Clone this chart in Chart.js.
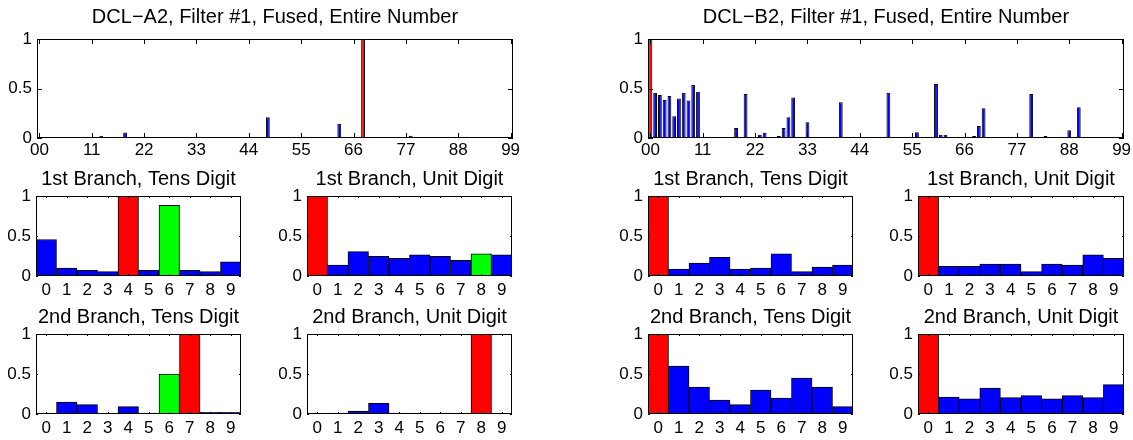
<!DOCTYPE html>
<html>
<head>
<meta charset="utf-8">
<script src="https://cdn.jsdelivr.net/npm/chart.js@4.4.1/dist/chart.umd.min.js"></script>
<style>
  body { margin: 0; background: #fff; width: 1133px; height: 440px; overflow: hidden; position: relative; }
  .panel { position: absolute; }
</style>
</head>
<body>
<script>
// ---- data ----
const digitLabels = ['0', '1', '2', '3', '4', '5', '6', '7', '8', '9'];
const numberLabels = Array.from({ length: 100 }, (_, i) => String(i).padStart(2, '0'));
const numberTicks = [0, 11, 22, 33, 44, 55, 66, 77, 88, 99];

// DCL-A2 fused score per number 00..99
const fusedA = [
  0, 0, 0, 0, 0, 0, 0, 0, 0.01, 0,
  0, 0, 0, 0.023, 0, 0, 0, 0, 0.055, 0,
  0, 0, 0, 0, 0, 0, 0, 0, 0, 0,
  0, 0, 0, 0, 0, 0, 0, 0, 0, 0,
  0, 0, 0, 0.008, 0, 0, 0, 0, 0.21, 0,
  0, 0, 0, 0, 0, 0, 0, 0, 0, 0,
  0, 0, 0.006, 0.145, 0.006, 0, 0.01, 0, 1, 0,
  0, 0, 0.005, 0.005, 0, 0, 0, 0, 0.023, 0,
  0, 0, 0, 0, 0, 0, 0, 0, 0, 0,
  0, 0, 0, 0, 0, 0, 0, 0, 0.005, 0
];
const a1Tens = [0.456, 0.10, 0.071, 0.054, 1, 0.071, 0.883, 0.071, 0.054, 0.176];
const a1Unit = [1, 0.138, 0.305, 0.247, 0.222, 0.264, 0.247, 0.197, 0.276, 0.264];
const a2Tens = [0.0125, 0.15, 0.117, 0, 0.092, 0.0125, 0.50, 1, 0.02, 0.02];
const a2Unit = [0.003, 0.0125, 0.0375, 0.133, 0.0125, 0, 0.0125, 0, 1, 0];

// DCL-B2 fused score per number 00..99
const fusedB = [
  1, 0.458, 0.434, 0.383, 0.424, 0.22, 0.40, 0.458, 0.38, 0.535,
  0.468, 0.006, 0.012, 0, 0, 0, 0.005, 0, 0.10, 0,
  0.444, 0.005, 0.006, 0.034, 0.054, 0.006, 0.006, 0.02, 0.10, 0.21,
  0.41, 0.006, 0, 0.16, 0, 0, 0.005, 0, 0.006, 0.006,
  0.36, 0.008, 0.008, 0, 0.006, 0, 0.006, 0.006, 0, 0.006,
  0.458, 0.006, 0.006, 0.006, 0.006, 0, 0.058, 0.006, 0.006, 0,
  0.546, 0.034, 0.034, 0.006, 0.006, 0.006, 0.006, 0.006, 0.02, 0.12,
  0.30, 0, 0, 0.006, 0, 0, 0, 0, 0.006, 0.006,
  0.444, 0.006, 0.006, 0.02, 0.006, 0, 0.006, 0.006, 0.078, 0,
  0.31, 0.006, 0.006, 0.006, 0, 0, 0, 0, 0.006, 0.006
];
const b1Tens = [1, 0.088, 0.163, 0.234, 0.088, 0.10, 0.276, 0.054, 0.113, 0.138];
const b1Unit = [1, 0.121, 0.121, 0.15, 0.15, 0.054, 0.15, 0.138, 0.264, 0.222];
const b2Tens = [1, 0.60, 0.3375, 0.175, 0.117, 0.30, 0.20, 0.45, 0.3375, 0.092];
const b2Unit = [1, 0.2125, 0.19, 0.325, 0.204, 0.229, 0.19, 0.229, 0.204, 0.367];

// ---- layout ----
const FONT = "'Liberation Sans', Arial, Helvetica, sans-serif";
const panels = [
  { title: 'DCL−A2, Filter #1, Fused, Entire Number', labels: numberLabels, data: fusedA, green: -1, big: true, box: [37, 39, 513, 138], titleY: 17 },
  { title: 'DCL−B2, Filter #1, Fused, Entire Number', labels: numberLabels, data: fusedB, green: -1, big: true, box: [648, 39, 1124, 138], titleY: 17 },
  { title: '1st Branch, Tens Digit', labels: digitLabels, data: a1Tens, green: 6, box: [36, 196, 241, 276], titleY: 179 },
  { title: '1st Branch, Unit Digit', labels: digitLabels, data: a1Unit, green: 8, box: [307, 196, 512, 276], titleY: 179 },
  { title: '1st Branch, Tens Digit', labels: digitLabels, data: b1Tens, green: -1, box: [648, 196, 853, 276], titleY: 179 },
  { title: '1st Branch, Unit Digit', labels: digitLabels, data: b1Unit, green: -1, box: [918, 196, 1124, 276], titleY: 179 },
  { title: '2nd Branch, Tens Digit', labels: digitLabels, data: a2Tens, green: 6, box: [36, 334, 241, 414], titleY: 317 },
  { title: '2nd Branch, Unit Digit', labels: digitLabels, data: a2Unit, green: -1, box: [307, 334, 512, 414], titleY: 317 },
  { title: '2nd Branch, Tens Digit', labels: digitLabels, data: b2Tens, green: -1, box: [648, 334, 853, 414], titleY: 317 },
  { title: '2nd Branch, Unit Digit', labels: digitLabels, data: b2Unit, green: -1, box: [918, 334, 1124, 414], titleY: 317 }
];

// matlab style box with inward ticks
const boxPlugin = {
  id: 'matlabBox',
  afterDatasetsDraw(chart, args, opts) {
    const { ctx, chartArea: a } = chart;
    const x = chart.scales.x, y = chart.scales.y;
    const len = opts.tick;
    ctx.save();
    ctx.strokeStyle = '#000';
    ctx.lineWidth = 1;
    ctx.beginPath();
    opts.xTicks.forEach(v => {
      const px = Math.round(x.getPixelForValue(v)) + 0.5;
      ctx.moveTo(px, a.bottom); ctx.lineTo(px, a.bottom - len);
      ctx.moveTo(px, a.top); ctx.lineTo(px, a.top + len);
    });
    [0, 0.5, 1].forEach(v => {
      const py = Math.round(y.getPixelForValue(v)) + 0.5;
      ctx.moveTo(a.left, py); ctx.lineTo(a.left + len, py);
      ctx.moveTo(a.right, py); ctx.lineTo(a.right - len, py);
    });
    ctx.stroke();
    ctx.strokeRect(Math.round(a.left) + 0.5, Math.round(a.top) + 0.5,
      Math.round(a.right - a.left) - 1, Math.round(a.bottom - a.top) - 1);
    ctx.restore();
  }
};

panels.forEach(p => {
  const [l, t, r, b] = p.box;
  const side = 40;   // same width left and right so the title centres over the axes
  const xH = p.big ? 22 : 24;
  const tSize = 20;
  const divTop = Math.round(p.titleY - tSize * 0.6);
  const titleGap = t - divTop - tSize * 1.2;

  const div = document.createElement('div');
  div.className = 'panel';
  div.style.left = (l - side) + 'px';
  div.style.top = divTop + 'px';
  const w = r - l + 2 * side;
  const h = b - divTop + xH;
  const canvas = document.createElement('canvas');
  canvas.width = w;
  canvas.height = h;
  div.appendChild(canvas);
  document.body.appendChild(div);

  const maxV = Math.max(...p.data);
  const colors = p.data.map((v, i) => v === maxV ? '#ff0000' : (i === p.green ? '#00ff00' : '#0000ff'));

  new Chart(canvas, {
    type: 'bar',
    data: {
      labels: p.labels,
      datasets: [{
        data: p.data,
        backgroundColor: colors,
        borderColor: '#000',
        borderWidth: 1,
        borderSkipped: false,
        categoryPercentage: 1,
        barPercentage: p.big ? 0.8 : 1
      }]
    },
    options: {
      responsive: false,
      animation: false,
      layout: { padding: 0 },
      plugins: {
        legend: { display: false },
        tooltip: { enabled: false },
        title: {
          display: true,
          text: p.title,
          color: '#000',
          font: { family: FONT, size: tSize, weight: 'normal' },
          padding: { top: 0, bottom: titleGap }
        },
        matlabBox: { tick: p.big ? 5 : 2, xTicks: p.big ? numberTicks : [0, 1, 2, 3, 4, 5, 6, 7, 8, 9] }
      },
      scales: {
        x: {
          grid: { display: false, drawTicks: false },
          border: { display: false },
          afterFit: s => { s.height = xH; },
          ticks: {
            color: '#000',
            font: { family: FONT, size: 17 },
            padding: p.big ? 2 : 4,
            autoSkip: false,
            maxRotation: 0,
            callback: function (val, idx) {
              if (!p.big) return p.labels[idx];
              return numberTicks.includes(idx) ? p.labels[idx] : '';
            }
          }
        },
        y: {
          min: 0,
          max: 1,
          grid: { display: false, drawTicks: false },
          border: { display: false },
          afterFit: s => { s.width = side; },
          ticks: {
            color: '#000',
            font: { family: FONT, size: 17 },
            padding: 5,
            stepSize: 0.5,
            callback: v => String(v)
          }
        },
        // empty right-hand axis, only reserves space
        yr: {
          position: 'right',
          min: 0,
          max: 1,
          grid: { display: false, drawTicks: false },
          border: { display: false },
          ticks: { display: false },
          afterFit: s => { s.width = side; }
        }
      }
    },
    plugins: [boxPlugin]
  });
});
</script>
</body>
</html>
